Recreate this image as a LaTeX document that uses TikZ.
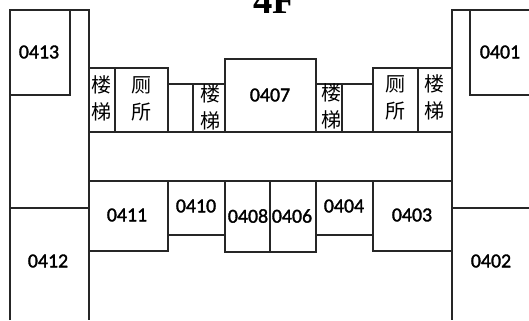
\documentclass[tikz,border=0pt]{standalone}
\usepackage{fontspec}
\setmainfont{Carlito}
\newfontfamily\roomfont[FakeBold=1.6]{Carlito}
\newfontfamily\cjk{Noto Sans CJK SC}
\newfontfamily\titlefont{Liberation Serif}
\tikzset{
 wall/.style={draw=black!85, line width=.8pt},
 room/.style={font=\roomfont\fontsize{11.3}{12}\selectfont, inner sep=0},
 zi/.style={font=\cjk\fontsize{11.4}{12}\selectfont, inner sep=0},
}
\begin{document}
\begin{tikzpicture} [xscale=.02, yscale=-.02]
\useasboundingbox (0,0) rectangle (529,320);
\node[anchor=base west, inner sep=0, font=\titlefont\bfseries\fontsize{22}{24}\selectfont] (title) at (253,13) {4F};
% outer walls
\draw[wall] (10,320)--(10,10)--(89,10)--(89,320);
\draw[wall] (529,10)--(452,10)--(452,320);
\draw[wall] (70,10)--(70,95)--(10,95);
\draw[wall] (470,10)--(470,95)--(529,95);
\draw[wall] (10,208)--(89,208);
\draw[wall] (452,208)--(529,208);
% upper row
\draw[wall] (89,68)--(168,68)--(168,132);
\draw[wall] (168,84)--(225,84);
\draw[wall] (225,132)--(225,59)--(316,59)--(316,132);
\draw[wall] (316,84)--(373,84);
\draw[wall] (373,132)--(373,68)--(452,68);
\draw[wall] (89,132)--(452,132);
\foreach \x/\y in {115/68, 193/84, 342/84, 418/68} {
 \draw[wall] (\x,\y)--(\x,132);
}
% lower row
\draw[wall] (89,181)--(452,181);
\draw[wall] (89,251)--(168,251)--(168,181);
\draw[wall] (168,235)--(225,235);
\draw[wall] (225,181)--(225,252)--(316,252)--(316,181);
\draw[wall] (270,181)--(270,252);
\draw[wall] (316,235)--(373,235);
\draw[wall] (373,181)--(373,251)--(452,251);
% room numbers
\foreach \x/\y/\t in {39/52/0413, 500/52/0401, 270/95/0407, 127/215/0411, 196/206/0410, 248/216/0408, 292/216/0406, 344/206/0404, 412/215/0403, 48/261/0412, 491/261/0402} {
 \node[room] (r\t) at (\x,\y) {\t};
}
% stairs and toilets
\foreach \x/\y/\t/\b in {102/85/楼/梯, 142/85/厕/所, 211/94/楼/梯, 332/93/楼/梯, 396/84/厕/所, 435/84/楼/梯} {
 \node[zi] (a\x) at (\x,\y) {\t};
 \node[zi] (b\x) at (\x,\y+27) {\b};
}
\end{tikzpicture}
\end{document}
